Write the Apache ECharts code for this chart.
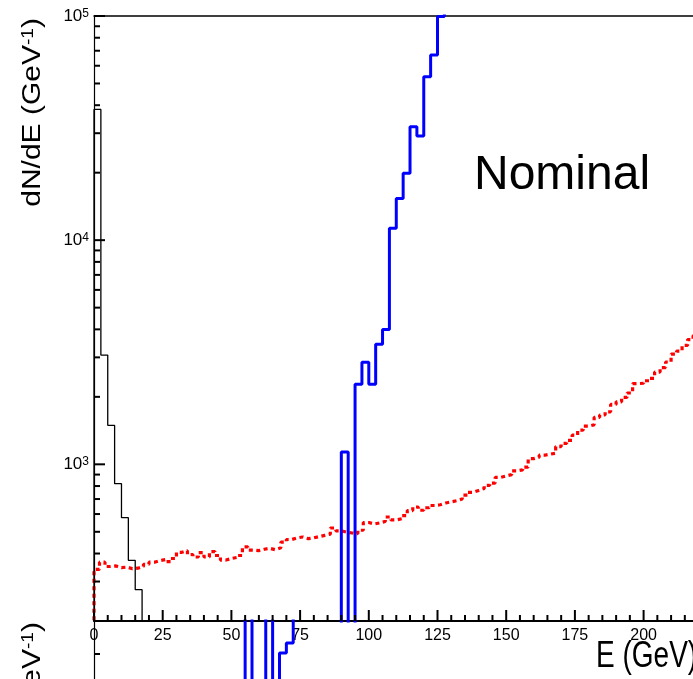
<!DOCTYPE html>
<html><head><meta charset="utf-8">
<script src="https://cdn.jsdelivr.net/npm/echarts@6/dist/echarts.min.js"></script>
<style>html,body{margin:0;padding:0;background:#fff}#c{width:693px;height:679px}</style>
</head><body><div id="c"></div>
<script>
const FONT = 'Liberation Sans';

// ---- axis ranges / ticks ----
const xMin = 0, xMax = 250, xInterval = 25, xMinorStep = 5;
const yMin = 200, yMax = 100000;
const yMajorTickValues = [1000, 10000, 100000];
const yMinorTickValues = [200, 300, 400, 500, 600, 700, 800, 900,
  2000, 3000, 4000, 5000, 6000, 7000, 8000, 9000,
  20000, 30000, 40000, 50000, 60000, 70000, 80000, 90000];

// ---- histograms (left bin edge start, bin width, contents) ----
const offScaleLow = 10;          // contents below the visible range
const blackStart = 0, blackWidth = 2.5;
const blackCounts = [38300, 3070, 1493, 820, 578, 373, 276, 10, 10];

const blueStart = 87.5, blueWidth = 2.5;
const blueCounts = [10, 1135, 10, 2276, 2851, 2276, 3433, 3990, 11300, 15350,
  19870, 32060, 29130, 53560, 66950, 99500, 300000, 300000];

const redStart = 0, redWidth = 2;
const redCounts = [
  340, 366, 350, 352, 346, 348, 342, 344, 350, 358,
  366, 372, 376, 368, 380, 405, 412, 396, 386, 404,
  386, 408, 392, 374, 380, 384, 392, 428, 414, 412,
  418, 422, 416, 424, 450, 462, 470, 474, 466, 470,
  476, 482, 488, 520, 505, 498, 494, 490, 508, 550,
  542, 548, 556, 582, 565, 572, 590, 622, 645, 624,
  640, 655, 660, 672, 680, 688, 700, 728, 750, 765,
  780, 805, 825, 875, 888, 900, 935, 945, 972, 1060,
  1075, 1098, 1110, 1120, 1200, 1240, 1280, 1350, 1420, 1480,
  1500, 1620, 1660, 1715, 1850, 1900, 1990, 2080, 2290, 2300,
  2360, 2420, 2580, 2700, 2860, 3100, 3200, 3390, 3600, 3750,
  3850, 3950, 4100];

// lower (second) pad, partly visible
const lowerYMin = 0, lowerYMax = 10, lowerYInterval = 1;
const lowerBlueStart = 50, lowerBlueWidth = 2.5;
const lowerBlueCounts = [5, 5, 12, 5, 5, 12, 5, 9.03, 9.33, 12, 12];

function hist(start, w, counts, floor) {
  const d = [[start, floor]];
  counts.forEach((c, i) => d.push([start + i * w, c]));
  d.push([start + counts.length * w, counts[counts.length - 1]]);
  return d;
}
function steps(a, b, s) { const r = []; for (let v = a; v <= b + 1e-9; v += s) r.push(v); return r; }

const xMajorTicks = steps(xMin, xMax, xInterval);
const xMinorTicks = steps(xMin, xMax, xMinorStep).filter(v => v % xInterval !== 0);
const lowerYTicks = steps(lowerYMin, lowerYMax, lowerYInterval);

// axis ticks, positioned through the axes' own scales
function tickSeries(xi, yi, points, dx, dy) {
  return {type: 'custom', xAxisIndex: xi, yAxisIndex: yi, z: 6, clip: false,
    data: points,
    renderItem: (params, api) => {
      const p = api.coord([api.value(0), api.value(1)]);
      return {type: 'line', shape: {x1: p[0], y1: p[1], x2: p[0] + dx, y2: p[1] + dy},
              style: {stroke: '#000', lineWidth: 2}};
    }};
}

const chart = echarts.init(document.getElementById('c'), null, {renderer: 'canvas'});
const titleRich = {
  a: {fontSize: 25, fontFamily: FONT, fill: '#000'},
  b: {fontSize: 16, fontFamily: FONT, fill: '#000', verticalAlign: 'top'}
};
chart.setOption({
  animation: false,
  backgroundColor: '#fff',
  grid: [
    {left: 94, top: 16, width: 687, height: 605, show: false, outerBoundsMode: 'none', containLabel: false},
    {left: 94, top: 621, width: 687, height: 330, show: false, outerBoundsMode: 'none', containLabel: false}
  ],
  xAxis: [
    {gridIndex: 0, type: 'value', min: xMin, max: xMax, interval: xInterval, position: 'bottom',
     axisLine: {show: true, onZero: false, lineStyle: {color: '#000', width: 2}},
     axisTick: {show: false}, minorTick: {show: false},
     splitLine: {show: false}, minorSplitLine: {show: false},
     axisLabel: {show: true, margin: 7, color: '#000', fontFamily: FONT, fontSize: 16, hideOverlap: false}},
    {gridIndex: 1, type: 'value', min: xMin, max: xMax, show: false},
    // frame top edge
    {gridIndex: 0, type: 'value', min: xMin, max: xMax, position: 'top',
     axisLine: {show: true, onZero: false, lineStyle: {color: '#000', width: 1.5}},
     axisTick: {show: false}, axisLabel: {show: false}, splitLine: {show: false}}
  ],
  yAxis: [
    {gridIndex: 0, type: 'log', logBase: 10, min: yMin, max: yMax, position: 'left',
     axisLine: {show: true, onZero: false, lineStyle: {color: '#000', width: 1.2}},
     axisTick: {show: false},
     axisLabel: {margin: 5, color: '#000', fontSize: 17, fontFamily: FONT,
       formatter: v => { const e = Math.log10(v); return Math.abs(e - Math.round(e)) < 1e-6 ? '{n|10}{s|' + Math.round(e) + '}' : ''; },
       rich: {n: {fontSize: 17, fontFamily: FONT, color: '#000'},
              s: {fontSize: 12, fontFamily: FONT, color: '#000', verticalAlign: 'top'}}},
     splitLine: {show: false}},
    {gridIndex: 1, type: 'value', min: lowerYMin, max: lowerYMax, interval: lowerYInterval, position: 'left',
     axisLine: {show: true, onZero: false, lineStyle: {color: '#000', width: 1.2}},
     axisTick: {show: false},
     axisLabel: {show: false}, splitLine: {show: false}}
  ],
  series: [
    {name: 'red', type: 'line', xAxisIndex: 0, yAxisIndex: 0, step: 'end', symbol: 'none', clip: true, z: 2,
     data: hist(redStart, redWidth, redCounts, offScaleLow),
     lineStyle: {color: '#ff0000', width: 3.2, type: [4, 3.5], cap: 'butt'}},
    {name: 'black', type: 'line', xAxisIndex: 0, yAxisIndex: 0, step: 'end', symbol: 'none', clip: true, z: 3,
     data: hist(blackStart, blackWidth, blackCounts, offScaleLow),
     lineStyle: {color: '#000', width: 1.3}},
    {name: 'blue', type: 'line', xAxisIndex: 0, yAxisIndex: 0, step: 'end', symbol: 'none', clip: true, z: 4,
     data: hist(blueStart, blueWidth, blueCounts, offScaleLow),
     lineStyle: {color: '#0000ff', width: 3}},
    {name: 'blueLower', type: 'line', xAxisIndex: 1, yAxisIndex: 1, step: 'end', symbol: 'none', clip: true, z: 4,
     data: hist(lowerBlueStart, lowerBlueWidth, lowerBlueCounts, 5),
     lineStyle: {color: '#0000ff', width: 3}},
    tickSeries(0, 0, xMajorTicks.map(v => [v, yMin]), 0, -11),
    tickSeries(0, 0, xMinorTicks.map(v => [v, yMin]), 0, -6),
    tickSeries(0, 0, yMajorTickValues.map(v => [xMin, v]), 11, 0),
    tickSeries(0, 0, yMinorTickValues.map(v => [xMin, v]), 6, 0),
    tickSeries(1, 1, lowerYTicks.map(v => [xMin, v]), 6, 0)
  ],
  graphic: {elements: [
    {type: 'text', x: 33, y: 18, rotation: Math.PI / 2, scaleX: 1.2,
     style: {text: '{a|dN/dE (GeV}{b|-1}{a|)}', rich: titleRich, fill: '#000',
             align: 'right', verticalAlign: 'middle', textAlign: 'right', textVerticalAlign: 'middle'}},
    {type: 'text', x: 33, y: 622, rotation: Math.PI / 2, scaleX: 1.2,
     style: {text: '{a|dN/dE (GeV}{b|-1}{a|)}', rich: titleRich, fill: '#000',
             align: 'right', verticalAlign: 'middle', textAlign: 'right', textVerticalAlign: 'middle'}},
    {type: 'text', x: 474, y: 176,
     style: {text: 'Nominal', font: '48px "Liberation Sans"', fill: '#000',
             align: 'left', verticalAlign: 'middle', textAlign: 'left', textVerticalAlign: 'middle'}},
    {type: 'text', x: 596, y: 657, scaleY: 1.3,
     style: {text: 'E (GeV)', font: '28px "Liberation Sans"', fill: '#000',
             align: 'left', verticalAlign: 'middle', textAlign: 'left', textVerticalAlign: 'middle'}}
  ]}
});
</script>
</body></html>
